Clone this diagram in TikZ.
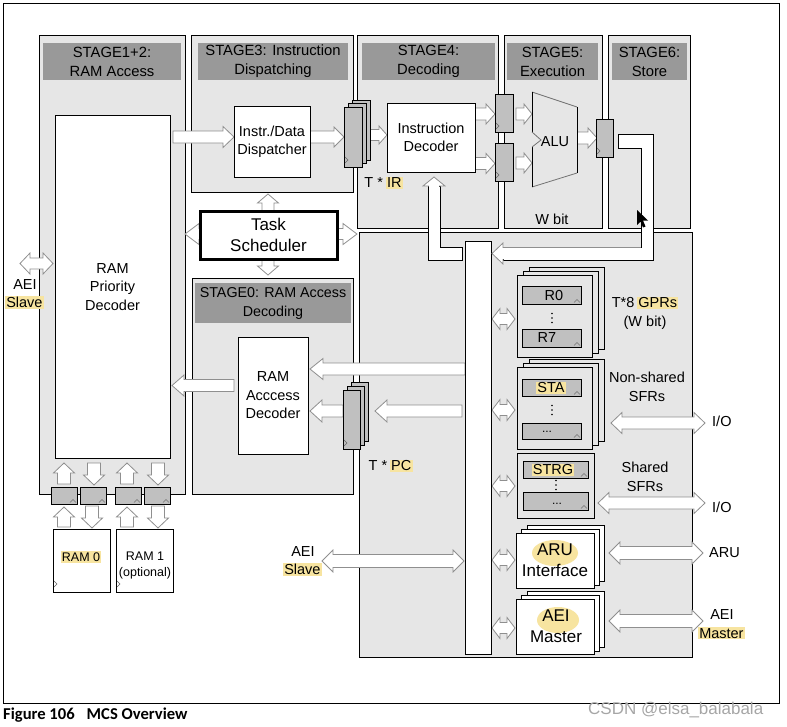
\documentclass[tikz,border=0pt]{standalone}
\usepackage{fontspec}
\setmainfont{Liberation Sans}
\newfontfamily\capfont{Carlito}
\usetikzlibrary{fit}
\definecolor{boxbg}{HTML}{E6E6E6}
\definecolor{hdrgray}{HTML}{999999}
\definecolor{reggray}{HTML}{C0C0C0}
\definecolor{arrline}{HTML}{8F8F8F}
\definecolor{hl}{HTML}{F7E4A0}
\newcommand\hlt[1]{\begingroup\setlength{\fboxsep}{1.2pt}\hspace{-1.2pt}\colorbox{hl}{#1}\hspace{-1.2pt}\endgroup}
% block arrows: right / left / double horizontal / up / down / double vertical
\newcommand\RArr[6]{\path[arr] (#1,{#3-#4}) -- ({#2-#6},{#3-#4}) -- ({#2-#6},{#3-#5}) -- (#2,#3) -- ({#2-#6},{#3+#5}) -- ({#2-#6},{#3+#4}) -- (#1,{#3+#4}) -- cycle;}
\newcommand\LArr[6]{\path[arr] (#1,{#3-#4}) -- ({#2+#6},{#3-#4}) -- ({#2+#6},{#3-#5}) -- (#2,#3) -- ({#2+#6},{#3+#5}) -- ({#2+#6},{#3+#4}) -- (#1,{#3+#4}) -- cycle;}
\newcommand\HDArr[6]{\path[arr] (#1,#3) -- ({#1+#6},{#3-#5}) -- ({#1+#6},{#3-#4}) -- ({#2-#6},{#3-#4}) -- ({#2-#6},{#3-#5}) -- (#2,#3) -- ({#2-#6},{#3+#5}) -- ({#2-#6},{#3+#4}) -- ({#1+#6},{#3+#4}) -- ({#1+#6},{#3+#5}) -- cycle;}
\newcommand\UArr[6]{\path[arr] ({#1-#4},#2) -- ({#1-#4},{#3+#6}) -- ({#1-#5},{#3+#6}) -- (#1,#3) -- ({#1+#5},{#3+#6}) -- ({#1+#4},{#3+#6}) -- ({#1+#4},#2) -- cycle;}
\newcommand\DArr[6]{\path[arr] ({#1-#4},#2) -- ({#1-#4},{#3-#6}) -- ({#1-#5},{#3-#6}) -- (#1,#3) -- ({#1+#5},{#3-#6}) -- ({#1+#4},{#3-#6}) -- ({#1+#4},#2) -- cycle;}
\newcommand\VDArr[6]{\path[arr] (#1,#2) -- ({#1+#5},{#2+#6}) -- ({#1+#4},{#2+#6}) -- ({#1+#4},{#3-#6}) -- ({#1+#5},{#3-#6}) -- (#1,#3) -- ({#1-#5},{#3-#6}) -- ({#1-#4},{#3-#6}) -- ({#1-#4},{#2+#6}) -- ({#1-#5},{#2+#6}) -- cycle;}
\newcommand\clk[2]{\draw[black!60, line width=0.5pt] (#1,{#2-3}) -- ({#1+3},#2) -- (#1,{#2+3});}
\newcommand\crt[2]{\draw[black!55, line width=0.5pt] ({#1-3},{#2+1.5}) -- (#1,{#2-1.5}) -- ({#1+3},{#2+1.5});}
\newcommand\vdts[2]{\fill (#1,{#2-4.5}) circle (0.9pt) (#1,#2) circle (0.9pt) (#1,{#2+4.5}) circle (0.9pt);}
\begin{document}
\begin{tikzpicture}[x=1pt,y=-1pt,
  font=\fontsize{14.5}{18.5}\selectfont,
  stagebox/.style={draw=black, fill=boxbg, line width=1pt, inner sep=0pt},
  hdr/.style={fill=hdrgray, inner sep=0pt},
  hdrtxt/.style={inner sep=0pt, align=center, font=\fontsize{14.8}{19}\selectfont},
  wbox/.style={draw=black, fill=white, line width=1pt, inner sep=0pt},
  regbox/.style={draw=black, fill=reggray, line width=1pt, inner sep=0pt},
  arr/.style={draw=arrline, fill=white, line width=0.8pt},
  lbl/.style={inner sep=0pt, align=center},
  path/.style={draw=black, fill=white, line width=1pt}]
\useasboundingbox (0,0) rectangle (787,726);
% outer frame
\draw[line width=1pt] (3,3) rectangle (779,703);
% stage boxes
\node[stagebox, fit={(39,35) (185,494)}] (s12) {};
\node[stagebox, fit={(191,35) (353,192)}] (s3) {};
\node[stagebox, fit={(357,35) (498,228)}] (s4) {};
\node[stagebox, fit={(504,35) (602,228)}] (s5) {};
\node[stagebox, fit={(608,35) (690,228)}] (s6) {};
\node[stagebox, fit={(192,278) (353,494)}] (s0) {};
\node[stagebox, fit={(359,232) (692,657)}] (sbig) {};
% headers
\node[hdr, fit={(43,43) (181,80)}] (h12) {};
\node[hdr, fit={(198,43) (348,80)}] (h3) {};
\node[hdr, fit={(362,43) (495,80)}] (h4) {};
\node[hdr, fit={(507,43) (598,80)}] (h5) {};
\node[hdr, fit={(612,43) (687,80)}] (h6) {};
\node[hdr, fit={(195,283) (351,323)}] (h0) {};
\node[hdrtxt] (h12t) at (h12.center) {STAGE1+2:\\RAM Access};
\node[hdrtxt] (h3t) at (h3.center) {STAGE3: Instruction\\Dispatching};
\node[hdrtxt] (h4t) at (h4.center) {STAGE4:\\Decoding};
\node[hdrtxt] (h5t) at (h5.center) {STAGE5:\\Execution};
\node[hdrtxt] (h6t) at (h6.center) {STAGE6:\\Store};
\node[hdrtxt, font=\fontsize{14.3}{19}\selectfont] (h0t) at (h0.center) {STAGE0: RAM Access\\Decoding};
% scheduler arrows (behind scheduler)
\HDArr{185}{357}{234}{5.5}{10.5}{14}
\VDArr{268}{194}{275}{6}{10.5}{9}
% arrows stage 3/4/5
\RArr{173}{234}{137}{6}{10.5}{11}
\RArr{310}{344}{137}{6}{10}{10}
\RArr{362}{387}{135}{5.5}{9}{8}
\RArr{475}{495}{114}{6}{10}{9}
\RArr{475}{495}{163.5}{6}{10}{9}
\RArr{516}{532}{114}{6}{10}{8}
\RArr{516}{532}{163}{6}{10}{8}
\RArr{577}{597}{138}{6}{10}{9}
% arrows stage 0
\LArr{465}{310}{369}{6}{10.5}{13}
\LArr{343}{310}{411}{6}{11}{12}
\LArr{462}{375}{411}{6}{11}{12}
\LArr{234}{172}{385.5}{6}{10.5}{12}
% AEI slave left
\HDArr{20}{53}{263.5}{5.5}{10.5}{10}
% bottom RAM arrows
\UArr{64}{484}{463}{6.5}{10.5}{10}
\DArr{94}{463}{485}{6.5}{10.5}{10}
\UArr{127}{484}{463}{6.5}{10.5}{10}
\DArr{158}{463}{485}{6.5}{10.5}{10}
\UArr{64}{527}{507}{6.5}{10.5}{10}
\DArr{92}{506}{528}{6.5}{10.5}{10}
\UArr{127}{527}{507}{6.5}{10.5}{10}
\DArr{158}{506}{528}{6.5}{10.5}{10}
% right block arrows
\HDArr{492}{515}{319}{5.5}{10.5}{8}
\HDArr{492}{515}{410}{5.5}{10.5}{8}
\HDArr{492}{515}{486}{5.5}{10.5}{8}
\HDArr{492}{515}{560}{5.5}{10.5}{8}
\HDArr{492}{515}{628}{5.5}{10.5}{8}
\HDArr{611}{705}{423}{6}{10.5}{11}
\HDArr{598}{705}{503}{6}{10.5}{11}
\HDArr{609}{703}{553}{6.5}{11}{11}
\HDArr{609}{703}{621}{6.5}{11}{11}
\HDArr{322}{464}{561}{6.5}{11}{11}
% main white boxes
\node[wbox, fit={(55,115) (170,458)}] (rpd) {};
\node[wbox, fit={(234,106) (310,177)}] (disp) {};
\node[wbox, fit={(387,103) (475,172)}] (idec) {};
\node[wbox, fit={(238,337) (308,454)}] (rad) {};
\node[wbox, line width=3pt, fit={(200,211) (337,259)}] (sched) {};
\node[lbl] (rpdt) at (112.5,287) {RAM\\Priority\\Decoder};
\node[lbl] (dispt) at (disp.center) {Instr./Data\\Dispatcher};
\node[lbl] (idect) at (idec.center) {Instruction\\Decoder};
\node[lbl] (radt) at (rad.center) {RAM\\Acccess\\Decoder};
\node[lbl, font=\fontsize{17}{21}\selectfont] (schedt) at (sched.center) {Task\\Scheduler};
% IR stack
\node[regbox, fit={(352,100) (370,160)}] (ir3) {};
\node[regbox, fit={(348,103.5) (366,163.5)}] (ir2) {};
\node[regbox, fit={(344,107) (362,167)}] (ir1) {};
\clk{345}{160}
% stage4/5 regs and store reg
\node[regbox, fit={(495,94) (513,132)}] (rega) {};
\node[regbox, fit={(495,143) (513,181)}] (regb) {};
\node[regbox, fit={(596,119) (613,157)}] (regs) {};
\clk{496}{126}\clk{496}{175}\clk{597}{151}
% ALU
\fill[boxbg] (532,92) -- (577,107) -- (577,173) -- (532,187) -- cycle;
\draw[black!55, line width=0.8pt] (532,92) -- (577,107) (577,173) -- (532,187);
\draw[black, line width=0.8pt] (577,107) -- (577,173) (532,187) -- (532,147) (532,132) -- (532,92);
\draw[black!55, line width=0.8pt] (532,147) -- (541,140) -- (532,132);
\node[lbl] (alu) at (555,142) {ALU};
% PC stack
\node[regbox, fit={(351,382) (368,441)}] (pc3) {};
\node[regbox, fit={(347,386) (364,445)}] (pc2) {};
\node[regbox, fit={(343,390) (360,449)}] (pc1) {};
\clk{344}{443}
% bottom regs and RAMs
\node[regbox, fit={(51,487) (77,504)}] (br1) {};
\node[regbox, fit={(80,487) (106,504)}] (br2) {};
\node[regbox, fit={(115,487) (141,504)}] (br3) {};
\node[regbox, fit={(144,487) (170,504)}] (br4) {};
\crt{73}{501}\crt{102}{501}\crt{137}{501}\crt{166}{501}
\node[wbox, fit={(53,529) (110,592)}] (ram0) {};
\node[wbox, fit={(116,529) (173,592)}] (ram1) {};
\node[lbl, font=\fontsize{12.5}{16}\selectfont] (ram0t) at (81,557) {\hlt{RAM 0}};
\node[lbl, font=\fontsize{12.5}{16}\selectfont] (ram1t) at (145,565) {RAM 1\\(optional)};
\clk{54}{584}\clk{117}{584}
% bus
\node[wbox, fit={(465,241) (491,654)}] (bus) {};
% return path to instruction decoder
\path[path] (462,247) -- (440,247) -- (440,186) -- (428,186) -- (428,260) -- (462,260) -- cycle;
\path[arr] (423,186) -- (434,177) -- (445,186) -- cycle;
\fill[white] (428.6,185) rectangle (439.4,188);
% feedback path from store
\path[path] (618,134) -- (653,134) -- (653,260) -- (503,260) -- (503,247) -- (641,247) -- (641,148) -- (618,148) -- cycle;
\path[arr] (503,243) -- (492,253.5) -- (503,264) -- cycle;
\fill[white] (501.5,247.6) rectangle (505,259.4);
\draw[arrline, line width=0.8pt] (503,247) -- (641,247);
% cursor
\fill[black] (637,210) -- (637,225) -- (640.5,221.5) -- (643,227.5) -- (645.5,226.5) -- (643,220.5) -- (648,220.5) -- cycle;
% GPR stack
\node[wbox, fill=boxbg, fit={(529,267) (604,349)}] (g3) {};
\node[wbox, fill=boxbg, fit={(523,271) (598,353)}] (g2) {};
\node[wbox, fill=boxbg, fit={(517,275) (592,357)}] (g1) {};
\node[regbox, fit={(522,286) (581,304)}] (r0) {};
\node[regbox, fit={(522,329) (581,347)}] (r7) {};
\node[lbl] (r0t) at (554,296) {R0};
\node[lbl] (r7t) at (547,338) {R7};
\crt{577}{301}\crt{577}{344}
\vdts{552}{318}
% non-shared SFR stack
\node[wbox, fill=boxbg, fit={(529,359) (604,441)}] (n3) {};
\node[wbox, fill=boxbg, fit={(523,363) (598,445)}] (n2) {};
\node[wbox, fill=boxbg, fit={(517,367) (592,449)}] (n1) {};
\node[regbox, fit={(522,379) (581,396)}] (sta) {};
\node[regbox, fit={(522,423) (581,439)}] (nd) {};
\node[lbl] (stat) at (551,388) {\hlt{STA}};
\node[lbl, font=\fontsize{12}{14}\selectfont] (ndt) at (547,432) {...};
\crt{577}{393}\crt{577}{436}
\vdts{552}{410}
% shared SFRs
\node[wbox, fill=boxbg, fit={(517,453) (594,518)}] (sh) {};
\node[regbox, fit={(523,461) (588,478)}] (strg) {};
\node[regbox, fit={(523,492) (588,510)}] (sd) {};
\node[lbl] (strgt) at (553,470) {\hlt{STRG}};
\node[lbl, font=\fontsize{12}{14}\selectfont] (sdt) at (557,504) {...};
\crt{584}{475}\crt{584}{507}
\vdts{556}{485}
% ARU interface stack
\node[wbox, fit={(527,525) (604,581)}] (a3) {};
\node[wbox, fit={(521.5,529) (599,585)}] (a2) {};
\node[wbox, fit={(516,533) (594,588)}] (a1) {};
\fill[hl] (555,553) ellipse [x radius=23pt, y radius=13pt];
\node[lbl, font=\fontsize{17}{21}\selectfont] (arut) at (555,560.5) {ARU\\Interface};
% AEI master stack
\node[wbox, fit={(527,591) (604,647)}] (m3) {};
\node[wbox, fit={(521.5,595) (599,651)}] (m2) {};
\node[wbox, fit={(516,599) (594,654)}] (m1) {};
\fill[hl] (558,620) ellipse [x radius=21pt, y radius=13pt];
\node[lbl, font=\fontsize{17}{21}\selectfont] (aeit) at (556,626.5) {AEI\\Master};
% labels
\node[lbl] (irl) at (383,183) {T *~\hlt{IR}};
\node[lbl] (pcl) at (390,466) {T *~\hlt{PC}};
\node[lbl] (wbit) at (552,219) {W bit};
\node[lbl] (gprl) at (645,313) {T*8~\hlt{GPRs}\\(W bit)};
\node[lbl] (nsl) at (647,387) {Non-shared\\SFRs};
\node[lbl] (ssl) at (645,477) {Shared\\SFRs};
\node[lbl, anchor=west] (io1) at (712,421) {I/O};
\node[lbl, anchor=west] (io2) at (712,507) {I/O};
\node[lbl, anchor=west] (arul) at (709,553) {ARU};
\node[lbl] (aeim) at (722,624.5) {AEI\\\hlt{Master}};
\node[lbl] (aeis) at (303,561) {AEI\\\hlt{Slave}};
\node[lbl] (aeisl) at (25,294) {AEI\\\hlt{Slave}};
% caption and watermark
\node[anchor=base west, inner sep=0pt, font=\capfont\bfseries\fontsize{16.6}{19}\selectfont] (cap) at (3,719) {Figure 106\hspace{12pt}MCS Overview};
\node[anchor=base west, inner sep=0pt, text=black!35, font=\fontsize{17}{20}\selectfont] (wm) at (588,714) {CSDN @elsa\_balabala};
\end{tikzpicture}
\end{document}
